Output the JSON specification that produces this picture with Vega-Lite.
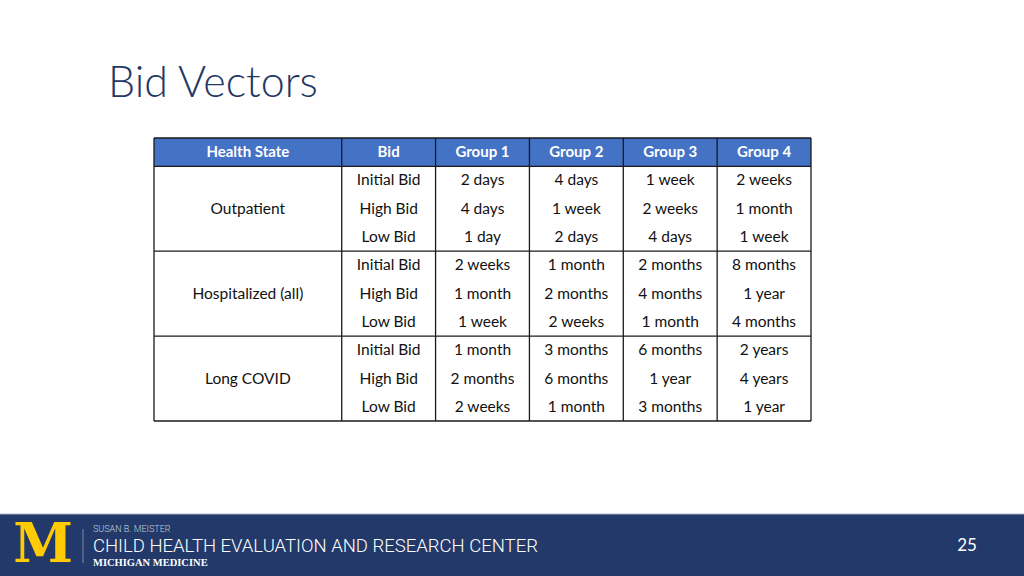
{
  "$schema": "https://vega.github.io/schema/vega-lite/v6.json",
  "width": 1024,
  "height": 576,
  "padding": 0,
  "autosize": {"type": "none"},
  "background": "#ffffff",
  "config": {"view": {"stroke": null}},
  "title": {
    "text": "Bid Vectors",
    "anchor": "start",
    "frame": "group",
    "orient": "top",
    "offset": -140,
    "dx": 108,
    "fontSize": 43,
    "font": "Lato",
    "fontWeight": 300,
    "color": "#1f3864",
    "baseline": "alphabetic"
  },
  "datasets": {
    "bids": [
      {"state": "Outpatient", "bid": "Initial Bid", "row": "Outpatient · Initial Bid", "Group 1": "2 days", "Group 2": "4 days", "Group 3": "1 week", "Group 4": "2 weeks"},
      {"state": "Outpatient", "bid": "High Bid", "row": "Outpatient · High Bid", "Group 1": "4 days", "Group 2": "1 week", "Group 3": "2 weeks", "Group 4": "1 month"},
      {"state": "Outpatient", "bid": "Low Bid", "row": "Outpatient · Low Bid", "Group 1": "1 day", "Group 2": "2 days", "Group 3": "4 days", "Group 4": "1 week"},
      {"state": "Hospitalized (all)", "bid": "Initial Bid", "row": "Hospitalized (all) · Initial Bid", "Group 1": "2 weeks", "Group 2": "1 month", "Group 3": "2 months", "Group 4": "8 months"},
      {"state": "Hospitalized (all)", "bid": "High Bid", "row": "Hospitalized (all) · High Bid", "Group 1": "1 month", "Group 2": "2 months", "Group 3": "4 months", "Group 4": "1 year"},
      {"state": "Hospitalized (all)", "bid": "Low Bid", "row": "Hospitalized (all) · Low Bid", "Group 1": "1 week", "Group 2": "2 weeks", "Group 3": "1 month", "Group 4": "4 months"},
      {"state": "Long COVID", "bid": "Initial Bid", "row": "Long COVID · Initial Bid", "Group 1": "1 month", "Group 2": "3 months", "Group 3": "6 months", "Group 4": "2 years"},
      {"state": "Long COVID", "bid": "High Bid", "row": "Long COVID · High Bid", "Group 1": "2 months", "Group 2": "6 months", "Group 3": "1 year", "Group 4": "4 years"},
      {"state": "Long COVID", "bid": "Low Bid", "row": "Long COVID · Low Bid", "Group 1": "2 weeks", "Group 2": "1 month", "Group 3": "3 months", "Group 4": "1 year"}
    ],
    "columns": [
      {"col": "Health State"},
      {"col": "Bid"},
      {"col": "Group 1"},
      {"col": "Group 2"},
      {"col": "Group 3"},
      {"col": "Group 4"}
    ],
    "footer": [
      {"line": "upper", "text": "SUSAN B. MEISTER"},
      {"line": "middle", "text": "CHILD HEALTH EVALUATION AND RESEARCH CENTER"},
      {"line": "lower", "text": "MICHIGAN MEDICINE"}
    ],
    "logo": [{"part": "logo", "text": "M"}],
    "page": [{"page": "25"}]
  },
  "layer": [
    {
      "layer": [
        {
          "data": {"name": "columns"},
          "transform": [{"filter": "datum.col === 'Health State'"}],
          "mark": {"type": "rect", "fill": "#4472c4", "stroke": null},
          "encoding": {
            "x": {"field": "col", "type": "nominal", "bandPosition": 0, "axis": null,
              "scale": {"type": "band", "domain": ["Health State", "Health State ·", "Bid", "Group 1", "Group 2", "Group 3", "Group 4"], "range": [154, 811], "paddingInner": 0, "paddingOuter": 0}},
            "x2": {"datum": "Group 4", "bandPosition": 1},
            "y": {"datum": "Header", "type": "nominal", "axis": null,
              "scale": {"type": "band", "domain": ["Header", "Outpatient · Initial Bid", "Outpatient · High Bid", "Outpatient · Low Bid", "Hospitalized (all) · Initial Bid", "Hospitalized (all) · High Bid", "Hospitalized (all) · Low Bid", "Long COVID · Initial Bid", "Long COVID · High Bid", "Long COVID · Low Bid"], "range": [138, 421], "paddingInner": 0, "paddingOuter": 0}}
          }
        },
        {
          "data": {"name": "columns"},
          "transform": [{"filter": "datum.col === 'Health State'"}],
          "mark": {"type": "text", "font": "Lato", "fontSize": 15, "fontWeight": "bold", "color": "#ffffff", "align": "center", "baseline": "middle"},
          "encoding": {
            "x": {"field": "col", "type": "nominal", "bandPosition": 1, "axis": null,
              "scale": {"type": "band", "domain": ["Health State", "Health State ·", "Bid", "Group 1", "Group 2", "Group 3", "Group 4"], "range": [154, 811], "paddingInner": 0, "paddingOuter": 0}},
            "y": {"datum": "Header", "type": "nominal", "axis": null,
              "scale": {"type": "band", "domain": ["Header", "Outpatient · Initial Bid", "Outpatient · High Bid", "Outpatient · Low Bid", "Hospitalized (all) · Initial Bid", "Hospitalized (all) · High Bid", "Hospitalized (all) · Low Bid", "Long COVID · Initial Bid", "Long COVID · High Bid", "Long COVID · Low Bid"], "range": [138, 421], "paddingInner": 0, "paddingOuter": 0}},
            "text": {"field": "col"}
          }
        },
        {
          "data": {"name": "columns"},
          "transform": [{"filter": "datum.col !== 'Health State'"}],
          "mark": {"type": "text", "font": "Lato", "fontSize": 15, "fontWeight": "bold", "color": "#ffffff", "align": "center", "baseline": "middle"},
          "encoding": {
            "x": {"field": "col", "type": "nominal", "bandPosition": 0.5, "axis": null,
              "scale": {"type": "band", "domain": ["Health State", "Health State ·", "Bid", "Group 1", "Group 2", "Group 3", "Group 4"], "range": [154, 811], "paddingInner": 0, "paddingOuter": 0}},
            "y": {"datum": "Header", "type": "nominal", "axis": null,
              "scale": {"type": "band", "domain": ["Header", "Outpatient · Initial Bid", "Outpatient · High Bid", "Outpatient · Low Bid", "Hospitalized (all) · Initial Bid", "Hospitalized (all) · High Bid", "Hospitalized (all) · Low Bid", "Long COVID · Initial Bid", "Long COVID · High Bid", "Long COVID · Low Bid"], "range": [138, 421], "paddingInner": 0, "paddingOuter": 0}},
            "text": {"field": "col"}
          }
        },
        {
          "data": {"name": "bids"},
          "mark": {"type": "text", "font": "Lato", "fontSize": 15.5, "color": "#111111", "align": "center", "baseline": "middle"},
          "encoding": {
            "x": {"datum": "Bid", "type": "nominal", "bandPosition": 0.5, "axis": null,
              "scale": {"type": "band", "domain": ["Health State", "Health State ·", "Bid", "Group 1", "Group 2", "Group 3", "Group 4"], "range": [154, 811], "paddingInner": 0, "paddingOuter": 0}},
            "y": {"field": "row", "type": "nominal", "axis": null,
              "scale": {"type": "band", "domain": ["Header", "Outpatient · Initial Bid", "Outpatient · High Bid", "Outpatient · Low Bid", "Hospitalized (all) · Initial Bid", "Hospitalized (all) · High Bid", "Hospitalized (all) · Low Bid", "Long COVID · Initial Bid", "Long COVID · High Bid", "Long COVID · Low Bid"], "range": [138, 421], "paddingInner": 0, "paddingOuter": 0}},
            "text": {"field": "bid"}
          }
        },
        {
          "data": {"name": "bids"},
          "transform": [{"fold": ["Group 1", "Group 2", "Group 3", "Group 4"], "as": ["group", "value"]}],
          "mark": {"type": "text", "font": "Lato", "fontSize": 15.5, "color": "#111111", "align": "center", "baseline": "middle"},
          "encoding": {
            "x": {"field": "group", "type": "nominal", "bandPosition": 0.5, "axis": null,
              "scale": {"type": "band", "domain": ["Health State", "Health State ·", "Bid", "Group 1", "Group 2", "Group 3", "Group 4"], "range": [154, 811], "paddingInner": 0, "paddingOuter": 0}},
            "y": {"field": "row", "type": "nominal", "axis": null,
              "scale": {"type": "band", "domain": ["Header", "Outpatient · Initial Bid", "Outpatient · High Bid", "Outpatient · Low Bid", "Hospitalized (all) · Initial Bid", "Hospitalized (all) · High Bid", "Hospitalized (all) · Low Bid", "Long COVID · Initial Bid", "Long COVID · High Bid", "Long COVID · Low Bid"], "range": [138, 421], "paddingInner": 0, "paddingOuter": 0}},
            "text": {"field": "value"}
          }
        },
        {
          "data": {"name": "bids"},
          "transform": [{"filter": "datum.bid === 'High Bid'"}],
          "mark": {"type": "text", "font": "Lato", "fontSize": 15.5, "color": "#111111", "align": "center", "baseline": "middle"},
          "encoding": {
            "x": {"datum": "Health State", "type": "nominal", "bandPosition": 1, "axis": null,
              "scale": {"type": "band", "domain": ["Health State", "Health State ·", "Bid", "Group 1", "Group 2", "Group 3", "Group 4"], "range": [154, 811], "paddingInner": 0, "paddingOuter": 0}},
            "y": {"field": "row", "type": "nominal", "axis": null,
              "scale": {"type": "band", "domain": ["Header", "Outpatient · Initial Bid", "Outpatient · High Bid", "Outpatient · Low Bid", "Hospitalized (all) · Initial Bid", "Hospitalized (all) · High Bid", "Hospitalized (all) · Low Bid", "Long COVID · Initial Bid", "Long COVID · High Bid", "Long COVID · Low Bid"], "range": [138, 421], "paddingInner": 0, "paddingOuter": 0}},
            "text": {"field": "state"}
          }
        },
        {
          "data": {"name": "columns"},
          "mark": {"type": "rule", "stroke": "#1a1a1a", "strokeWidth": 1.3},
          "encoding": {
            "x": {"field": "col", "type": "nominal", "bandPosition": 0, "axis": null,
              "scale": {"type": "band", "domain": ["Health State", "Health State ·", "Bid", "Group 1", "Group 2", "Group 3", "Group 4"], "range": [154, 811], "paddingInner": 0, "paddingOuter": 0}},
            "y": {"datum": "Header", "type": "nominal", "bandPosition": 0, "axis": null,
              "scale": {"type": "band", "domain": ["Header", "Outpatient · Initial Bid", "Outpatient · High Bid", "Outpatient · Low Bid", "Hospitalized (all) · Initial Bid", "Hospitalized (all) · High Bid", "Hospitalized (all) · Low Bid", "Long COVID · Initial Bid", "Long COVID · High Bid", "Long COVID · Low Bid"], "range": [138, 421], "paddingInner": 0, "paddingOuter": 0}},
            "y2": {"datum": "Long COVID · Low Bid", "bandPosition": 1}
          }
        },
        {
          "data": {"name": "columns"},
          "transform": [{"filter": "datum.col === 'Group 4'"}],
          "mark": {"type": "rule", "stroke": "#1a1a1a", "strokeWidth": 1.3},
          "encoding": {
            "x": {"field": "col", "type": "nominal", "bandPosition": 1, "axis": null,
              "scale": {"type": "band", "domain": ["Health State", "Health State ·", "Bid", "Group 1", "Group 2", "Group 3", "Group 4"], "range": [154, 811], "paddingInner": 0, "paddingOuter": 0}},
            "y": {"datum": "Header", "type": "nominal", "bandPosition": 0, "axis": null,
              "scale": {"type": "band", "domain": ["Header", "Outpatient · Initial Bid", "Outpatient · High Bid", "Outpatient · Low Bid", "Hospitalized (all) · Initial Bid", "Hospitalized (all) · High Bid", "Hospitalized (all) · Low Bid", "Long COVID · Initial Bid", "Long COVID · High Bid", "Long COVID · Low Bid"], "range": [138, 421], "paddingInner": 0, "paddingOuter": 0}},
            "y2": {"datum": "Long COVID · Low Bid", "bandPosition": 1}
          }
        },
        {
          "data": {"name": "bids"},
          "transform": [{"filter": "datum.bid === 'Initial Bid'"}],
          "mark": {"type": "rule", "stroke": "#1a1a1a", "strokeWidth": 1.3},
          "encoding": {
            "x": {"datum": "Health State", "type": "nominal", "bandPosition": 0, "axis": null,
              "scale": {"type": "band", "domain": ["Health State", "Health State ·", "Bid", "Group 1", "Group 2", "Group 3", "Group 4"], "range": [154, 811], "paddingInner": 0, "paddingOuter": 0}},
            "x2": {"datum": "Group 4", "bandPosition": 1},
            "y": {"field": "row", "type": "nominal", "bandPosition": 0, "axis": null,
              "scale": {"type": "band", "domain": ["Header", "Outpatient · Initial Bid", "Outpatient · High Bid", "Outpatient · Low Bid", "Hospitalized (all) · Initial Bid", "Hospitalized (all) · High Bid", "Hospitalized (all) · Low Bid", "Long COVID · Initial Bid", "Long COVID · High Bid", "Long COVID · Low Bid"], "range": [138, 421], "paddingInner": 0, "paddingOuter": 0}}
          }
        },
        {
          "data": {"name": "bids"},
          "transform": [{"filter": "datum.bid === 'Initial Bid' && datum.state === 'Outpatient'"}],
          "mark": {"type": "rule", "stroke": "#1a1a1a", "strokeWidth": 1.3},
          "encoding": {
            "x": {"datum": "Health State", "type": "nominal", "bandPosition": 0, "axis": null,
              "scale": {"type": "band", "domain": ["Health State", "Health State ·", "Bid", "Group 1", "Group 2", "Group 3", "Group 4"], "range": [154, 811], "paddingInner": 0, "paddingOuter": 0}},
            "x2": {"datum": "Group 4", "bandPosition": 1},
            "y": {"datum": "Header", "type": "nominal", "bandPosition": 0, "axis": null,
              "scale": {"type": "band", "domain": ["Header", "Outpatient · Initial Bid", "Outpatient · High Bid", "Outpatient · Low Bid", "Hospitalized (all) · Initial Bid", "Hospitalized (all) · High Bid", "Hospitalized (all) · Low Bid", "Long COVID · Initial Bid", "Long COVID · High Bid", "Long COVID · Low Bid"], "range": [138, 421], "paddingInner": 0, "paddingOuter": 0}}
          }
        },
        {
          "data": {"name": "bids"},
          "transform": [{"filter": "datum.bid === 'Low Bid' && datum.state === 'Long COVID'"}],
          "mark": {"type": "rule", "stroke": "#1a1a1a", "strokeWidth": 1.3},
          "encoding": {
            "x": {"datum": "Health State", "type": "nominal", "bandPosition": 0, "axis": null,
              "scale": {"type": "band", "domain": ["Health State", "Health State ·", "Bid", "Group 1", "Group 2", "Group 3", "Group 4"], "range": [154, 811], "paddingInner": 0, "paddingOuter": 0}},
            "x2": {"datum": "Group 4", "bandPosition": 1},
            "y": {"field": "row", "type": "nominal", "bandPosition": 1, "axis": null,
              "scale": {"type": "band", "domain": ["Header", "Outpatient · Initial Bid", "Outpatient · High Bid", "Outpatient · Low Bid", "Hospitalized (all) · Initial Bid", "Hospitalized (all) · High Bid", "Hospitalized (all) · Low Bid", "Long COVID · Initial Bid", "Long COVID · High Bid", "Long COVID · Low Bid"], "range": [138, 421], "paddingInner": 0, "paddingOuter": 0}}
          }
        }
      ]
    },
    {
      "layer": [
        {
          "data": {"name": "page"},
          "mark": {"type": "rect", "fill": "#22396a", "stroke": null},
          "encoding": {
            "x": {"datum": "slide", "type": "nominal", "axis": null,
              "scale": {"type": "band", "domain": ["slide"], "range": [0, 1024], "paddingInner": 0, "paddingOuter": 0}},
            "y": {"datum": "footer", "type": "nominal", "axis": null,
              "scale": {"type": "band", "domain": ["footer"], "range": [514, 576], "paddingInner": 0, "paddingOuter": 0}}
          }
        },
        {
          "data": {"name": "page"},
          "mark": {"type": "rule", "stroke": "#aab3c2", "strokeWidth": 1.2},
          "encoding": {
            "y": {"datum": "footer", "type": "nominal", "bandPosition": 0, "axis": null,
              "scale": {"type": "band", "domain": ["footer"], "range": [514, 576], "paddingInner": 0, "paddingOuter": 0}}
          }
        }
      ]
    },
    {
      "layer": [
        {
          "data": {"name": "logo"},
          "mark": {"type": "text", "font": "DejaVu Serif", "fontWeight": "bold", "fontSize": 54, "color": "#ffcb05", "align": "right", "baseline": "middle"},
          "encoding": {
            "x": {"datum": "logo", "type": "nominal", "axis": null,
              "scale": {"type": "point", "domain": ["logo", "divider", "text"], "range": [73, 93], "padding": 0}},
            "y": {"datum": "middle", "type": "nominal", "axis": null,
              "scale": {"type": "point", "domain": ["upper", "middle", "lower"], "range": [529, 563], "padding": 0}},
            "text": {"field": "text"}
          }
        },
        {
          "data": {"name": "logo"},
          "mark": {"type": "rule", "stroke": "#7f8ba5", "strokeWidth": 1},
          "encoding": {
            "x": {"datum": "divider", "type": "nominal", "axis": null,
              "scale": {"type": "point", "domain": ["logo", "divider", "text"], "range": [73, 93], "padding": 0}},
            "y": {"datum": "upper", "type": "nominal", "axis": null,
              "scale": {"type": "point", "domain": ["upper", "middle", "lower"], "range": [529, 563], "padding": 0}},
            "y2": {"datum": "lower"}
          }
        },
        {
          "data": {"name": "footer"},
          "transform": [{"filter": "datum.line === 'upper'"}],
          "mark": {"type": "text", "font": "Roboto", "fontWeight": 300, "fontSize": 9, "color": "#c9cfdb", "align": "left", "baseline": "middle"},
          "encoding": {
            "x": {"datum": "text", "type": "nominal", "axis": null,
              "scale": {"type": "point", "domain": ["logo", "divider", "text"], "range": [73, 93], "padding": 0}},
            "y": {"field": "line", "type": "nominal", "axis": null,
              "scale": {"type": "point", "domain": ["upper", "middle", "lower"], "range": [529, 563], "padding": 0}},
            "text": {"field": "text"}
          }
        },
        {
          "data": {"name": "footer"},
          "transform": [{"filter": "datum.line === 'middle'"}],
          "mark": {"type": "text", "font": "Roboto", "fontWeight": 300, "fontSize": 18.5, "color": "#ffffff", "align": "left", "baseline": "middle"},
          "encoding": {
            "x": {"datum": "text", "type": "nominal", "axis": null,
              "scale": {"type": "point", "domain": ["logo", "divider", "text"], "range": [73, 93], "padding": 0}},
            "y": {"field": "line", "type": "nominal", "axis": null,
              "scale": {"type": "point", "domain": ["upper", "middle", "lower"], "range": [529, 563], "padding": 0}},
            "text": {"field": "text"}
          }
        },
        {
          "data": {"name": "footer"},
          "transform": [{"filter": "datum.line === 'lower'"}],
          "mark": {"type": "text", "font": "Liberation Serif", "fontWeight": "bold", "fontSize": 10.5, "color": "#ffffff", "align": "left", "baseline": "middle"},
          "encoding": {
            "x": {"datum": "text", "type": "nominal", "axis": null,
              "scale": {"type": "point", "domain": ["logo", "divider", "text"], "range": [73, 93], "padding": 0}},
            "y": {"field": "line", "type": "nominal", "axis": null,
              "scale": {"type": "point", "domain": ["upper", "middle", "lower"], "range": [529, 563], "padding": 0}},
            "text": {"field": "text"}
          }
        }
      ]
    },
    {
      "data": {"name": "page"},
      "mark": {"type": "text", "font": "Lato", "fontSize": 17, "color": "#ffffff", "align": "center", "baseline": "middle"},
      "encoding": {
        "x": {"datum": "page", "type": "nominal", "axis": null,
          "scale": {"type": "point", "domain": ["page"], "range": [940, 994], "padding": 0.5}},
        "y": {"datum": "footer", "type": "nominal", "axis": null,
          "scale": {"type": "point", "domain": ["footer"], "range": [520, 572], "padding": 0.5}},
        "text": {"field": "page"}
      }
    }
  ],
  "resolve": {"scale": {"x": "independent", "y": "independent"}}
}
